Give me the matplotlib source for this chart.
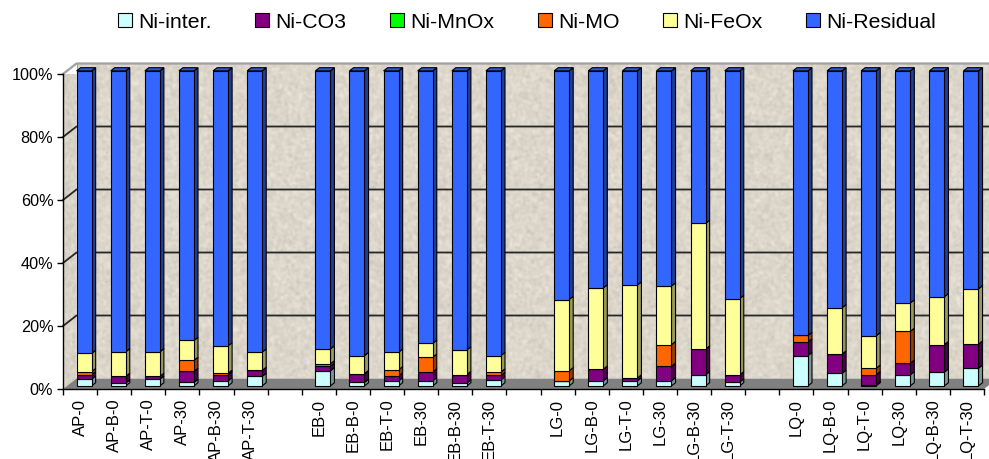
import numpy as np
import matplotlib
matplotlib.use('Agg')
import matplotlib.pyplot as plt
from matplotlib.patches import Polygon, Rectangle
from matplotlib.colors import to_rgb

plt.rcParams['font.family'] = ['Liberation Sans', 'DejaVu Sans']

samples = ['AP-0', 'AP-B-0', 'AP-T-0', 'AP-30', 'AP-B-30', 'AP-T-30',
           'EB-0', 'EB-B-0', 'EB-T-0', 'EB-30', 'EB-B-30', 'EB-T-30',
           'LG-0', 'LG-B-0', 'LG-T-0', 'LG-30', 'LG-B-30', 'LG-T-30',
           'LQ-0', 'LQ-B-0', 'LQ-T-0', 'LQ-30', 'LQ-B-30', 'LQ-T-30']

fractions = ['Ni-inter.', 'Ni-CO3', 'Ni-MnOx', 'Ni-MO', 'Ni-FeOx', 'Ni-Residual']
colors = ['#CCFFFF', '#800080', '#00FF00', '#FF6600', '#FFFF99', '#3366FF']

# percent of total Ni in each fraction
ni_inter = [2.1, 0.9, 2.1, 1.1, 1.6, 3.0, 4.8, 1.1, 1.6, 1.6, 0.9, 1.9,
            1.6, 1.6, 1.6, 1.6, 3.5, 1.2, 9.6, 4.0, 0.3, 3.5, 4.4, 5.6]
ni_co3 = [1.4, 2.1, 0.9, 3.5, 1.9, 1.9, 1.4, 2.8, 1.6, 2.8, 2.7, 1.4,
          0.0, 3.7, 0.9, 4.6, 8.2, 2.3, 4.3, 6.1, 3.2, 3.7, 8.7, 7.7]
ni_mnox = [0.0] * 24
ni_mo = [1.0, 0.0, 0.0, 3.5, 0.5, 0.0, 0.8, 0.0, 1.9, 4.7, 0.0, 1.1,
         3.2, 0.0, 0.0, 6.9, 0.0, 0.0, 2.1, 0.0, 2.1, 10.1, 0.0, 0.0]
ni_feox = [5.8, 7.8, 7.8, 6.3, 8.7, 5.8, 4.7, 5.7, 5.6, 4.4, 7.8, 5.2,
           22.6, 25.8, 29.5, 18.6, 39.9, 24.2, 0.0, 14.7, 10.3, 9.0, 15.2, 17.5]
ni_residual = [100 - sum(v) for v in zip(ni_inter, ni_co3, ni_mnox, ni_mo, ni_feox)]

series = [ni_inter, ni_co3, ni_mnox, ni_mo, ni_feox, ni_residual]

# 4 sites x 6 samples, one empty slot between sites
group_size = 6
pos = np.array([i + i // group_size for i in range(len(samples))], dtype=float)
n_slots = int(pos[-1]) + 1

W, H = 989, 459
fig = plt.figure(figsize=(W / 100, H / 100), dpi=100)
left, right, bottom, top = 63, 984, 389, 74
ax = fig.add_axes([left / W, (H - bottom) / H, (right - left) / W, (bottom - top) / H])
ax.patch.set_visible(False)

# depth of the 3D box, converted from pixels to data units
px_x = (right - left) / n_slots
px_y = (bottom - top) / 100.0
ddx, ddy = 13.5 / px_x, 10.5 / px_y

x0, x1 = -0.5, n_slots - 0.5
wall = np.array(to_rgb('#DDD6CA'))


def stone(h, w, seed):
    # soft speckled stone texture for the walls
    rng = np.random.default_rng(seed)
    n = rng.normal(size=(h, w))
    for _ in range(3):
        n = (n + np.roll(n, 1, 0) + np.roll(n, -1, 0) + np.roll(n, 1, 1) + np.roll(n, -1, 1)) / 5
    n = n / n.std()
    spots = (rng.random((h, w)) > 0.9985) * -2.5
    spots = (spots + np.roll(spots, 1, 0) + np.roll(spots, 1, 1)) / 2
    img = wall[None, None, :] + (0.018 * n + 0.04 * spots)[:, :, None]
    return np.clip(img, 0, 1)


ax.imshow(stone(312, 930, 7), extent=(x0 + ddx, x1 + ddx, ddy, 100 + ddy),
          aspect='auto', zorder=0, clip_on=False, interpolation='bilinear')
side_wall = Polygon([(x0, 0), (x0 + ddx, ddy), (x0 + ddx, 100 + ddy), (x0, 100)],
                    facecolor='none', edgecolor='none', clip_on=False)
ax.add_patch(side_wall)
side_img = ax.imshow(stone(320, 20, 11) * 0.98, extent=(x0, x0 + ddx, 0, 100 + ddy),
                     aspect='auto', zorder=0, interpolation='bilinear')
side_img.set_clip_path(side_wall)
ax.add_patch(Polygon([(x0, 0), (x1, 0), (x1 + ddx, ddy), (x0 + ddx, ddy)],
                     facecolor='#808080', edgecolor='none', zorder=1, clip_on=False))

for g in [20, 40, 60, 80]:
    ax.plot([x0, x0 + ddx, x1 + ddx], [g, g + ddy, g + ddy], color='#262626',
            lw=1.3, zorder=0.5, clip_on=False)
ax.plot([x0, x0 + ddx, x1 + ddx], [100, 100 + ddy, 100 + ddy], color='#A0A0A0',
        lw=1.6, zorder=0.5, clip_on=False)
ax.plot([x0 + ddx, x0 + ddx], [ddy, 100 + ddy], color='#A0A0A0', lw=0.8,
        zorder=0.5, clip_on=False)


def shade(c, f):
    r, g, b = to_rgb(c)
    return (r * f, g * f, b * f)


# bars sit between 30% and 60% of the box depth
f0, f1 = 0.3, 0.6
bw = 0.44
bx = pos + f0 * ddx
sx, sy = (f1 - f0) * ddx, (f1 - f0) * ddy
base = np.zeros(len(samples))
for name, vals, col in zip(fractions, series, colors):
    vals = np.array(vals)
    ax.bar(bx, vals, width=bw, bottom=base + f0 * ddy, color=col, edgecolor='black',
           linewidth=0.8, zorder=3, label=name, clip_on=False)
    for xc, b0, h in zip(bx, base, vals):
        if h <= 0:
            continue
        xr = xc + bw / 2
        y0, y1 = b0 + f0 * ddy, b0 + h + f0 * ddy
        ax.add_patch(Polygon([(xr, y0), (xr + sx, y0 + sy), (xr + sx, y1 + sy), (xr, y1)],
                             facecolor=shade(col, 0.6), edgecolor='black', lw=0.8,
                             zorder=2.5, clip_on=False))
    base = base + vals

for xc, t in zip(bx, base):
    yt = t + f0 * ddy
    xl, xr = xc - bw / 2, xc + bw / 2
    ax.add_patch(Polygon([(xl, yt), (xr, yt), (xr + sx, yt + sy), (xl + sx, yt + sy)],
                         facecolor=shade(colors[-1], 0.85), edgecolor='black', lw=0.8,
                         zorder=2.5, clip_on=False))

ax.set_xlim(x0, x1)
ax.set_ylim(0, 100)

ax.spines['top'].set_visible(False)
ax.spines['right'].set_visible(False)
for s in ['left', 'bottom']:
    ax.spines[s].set_linewidth(1.0)
    ax.spines[s].set_zorder(4)

ax.set_yticks(np.arange(0, 101, 20))
ax.set_yticklabels([f'{v}%' for v in range(0, 101, 20)], fontsize=11.7)
ax.tick_params(axis='y', direction='out', length=4, width=1, pad=3)

ax.set_xticks(pos)
ax.set_xticklabels(samples, rotation=90, fontsize=12)
ax.set_xticks(np.arange(-0.5, n_slots, 1.0), minor=True)
ax.tick_params(axis='x', which='major', length=0, pad=7)
ax.tick_params(axis='x', which='minor', direction='out', length=4, width=1)

fig.legend(loc='center', bbox_to_anchor=(0.533, 0.952), ncol=6, frameon=False,
           fontsize=15.3, handlelength=0.65, handleheight=0.65, handletextpad=0.3,
           columnspacing=2.05)

fig.savefig('out.png', dpi=100, facecolor='white')
